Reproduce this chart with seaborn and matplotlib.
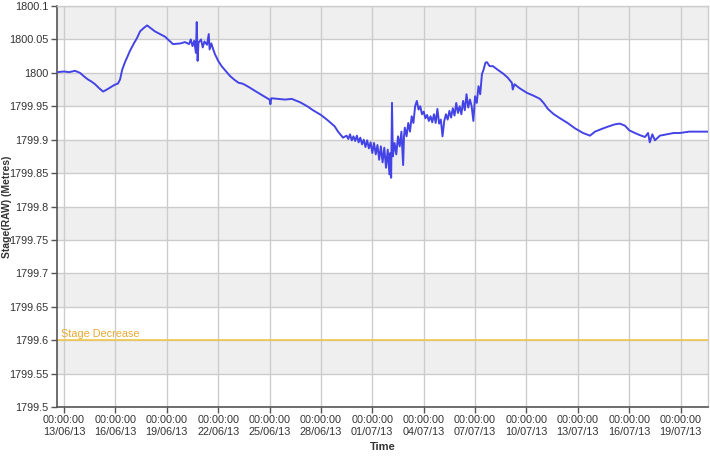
import numpy as np
import pandas as pd
import matplotlib
matplotlib.use("Agg")
import matplotlib.pyplot as plt
import seaborn as sns

# ---- data (days since 13/06/13 00:00, stage in metres) ----
days = [-0.41, 0.0, 0.3, 0.64, 0.93, 1.2, 1.40, 1.6, 1.81, 2.05, 2.28, 2.5, 2.69, 2.95,
        3.15, 3.27, 3.4, 3.56, 3.7, 3.85, 4.1, 4.26, 4.44, 4.65, 4.85, 5.1, 5.31, 5.6,
        5.90, 6.36, 6.8, 7.06, 7.3, 7.4, 7.5, 7.6, 7.7, 7.75, 7.8, 7.85, 8.0, 8.1, 8.2,
        8.35, 8.45, 8.5, 8.6, 8.7, 8.81, 9.0, 9.2, 9.40, 9.7, 9.98, 10.2, 10.4, 10.57,
        10.9, 11.15, 11.6, 12.0, 12.05, 12.1, 12.5, 12.9, 13.3, 13.78, 14.2, 14.54, 15.0,
        15.35, 15.8, 16.0, 16.29,
        16.5, 16.6, 16.7, 16.8, 16.9, 17.0, 17.1, 17.2, 17.3, 17.4, 17.5, 17.6, 17.7,
        17.8, 17.9, 18.0, 18.1, 18.2, 18.3, 18.4, 18.5, 18.6, 18.7, 18.8, 18.9, 19.0,
        19.05, 19.1, 19.15, 19.2, 19.3, 19.4, 19.5, 19.6, 19.7, 19.8, 19.85, 19.9, 20.0,
        20.1, 20.2, 20.3, 20.4, 20.5, 20.6, 20.7, 20.8, 20.9, 21.0, 21.1, 21.2, 21.3,
        21.4, 21.5, 21.6, 21.7, 21.8, 21.9, 22.0, 22.1, 22.2, 22.3, 22.4, 22.5, 22.6,
        22.7, 22.8, 22.9, 23.0, 23.1, 23.2, 23.3, 23.4, 23.5, 23.6, 23.7, 23.8, 23.9,
        24.0, 24.1, 24.2, 24.3, 24.4, 24.5, 24.6, 24.69,
        24.85, 25.04, 25.3, 25.63, 25.9, 26.15, 26.2, 26.3, 26.6, 27.03,
        27.4, 27.79, 28.0, 28.25, 28.6, 28.96, 29.4, 29.83, 30.3, 30.71, 31.0, 31.29,
        31.7, 32.17, 32.45, 32.75, 33.0, 33.33, 33.6, 33.92, 34.1, 34.2, 34.35, 34.5,
        34.79, 35.2, 35.6, 35.96, 36.5, 37.0, 37.60]
stage = [1800.001, 1800.002, 1800.001, 1800.003, 1800.000, 1799.994, 1799.990, 1799.987,
         1799.983, 1799.977, 1799.972, 1799.975, 1799.978, 1799.982, 1799.984, 1799.990,
         1800.005, 1800.016, 1800.024, 1800.033, 1800.045, 1800.052, 1800.062, 1800.067,
         1800.071, 1800.066, 1800.062, 1800.058, 1800.054, 1800.043, 1800.044, 1800.046,
         1800.043, 1800.050, 1800.040, 1800.048, 1800.030, 1800.076, 1800.018, 1800.045,
         1800.050, 1800.038, 1800.047, 1800.042, 1800.058, 1800.035, 1800.044, 1800.036,
         1800.028, 1800.018, 1800.010, 1800.004, 1799.995, 1799.989, 1799.985, 1799.984,
         1799.982, 1799.977, 1799.973, 1799.966, 1799.960, 1799.953, 1799.962, 1799.961,
         1799.960, 1799.961, 1799.956, 1799.950, 1799.944, 1799.937, 1799.930, 1799.920,
         1799.912, 1799.903,
         1799.906, 1799.901, 1799.908, 1799.899, 1799.905, 1799.898, 1799.906, 1799.896,
         1799.903, 1799.893, 1799.900, 1799.889, 1799.899, 1799.887, 1799.896, 1799.880,
         1799.895, 1799.878, 1799.892, 1799.870, 1799.890, 1799.866, 1799.888, 1799.858,
         1799.885, 1799.848, 1799.880, 1799.843, 1799.955, 1799.875, 1799.895, 1799.878,
         1799.905, 1799.890, 1799.912, 1799.862, 1799.905, 1799.918, 1799.905, 1799.925,
         1799.912, 1799.935, 1799.925, 1799.950, 1799.958, 1799.945, 1799.950, 1799.938,
         1799.942, 1799.932, 1799.937, 1799.928, 1799.935, 1799.926, 1799.938, 1799.925,
         1799.946, 1799.924, 1799.930, 1799.905, 1799.928, 1799.938, 1799.930, 1799.943,
         1799.933, 1799.947, 1799.936, 1799.955, 1799.940, 1799.950, 1799.938, 1799.958,
         1799.944, 1799.968, 1799.948, 1799.960, 1799.950, 1799.928, 1799.965, 1799.955,
         1799.980, 1799.968, 1799.998, 1800.005, 1800.015, 1800.016,
         1800.010, 1800.010, 1800.005, 1799.999, 1799.993, 1799.985, 1799.975, 1799.983,
         1799.977, 1799.970, 1799.966, 1799.961, 1799.955, 1799.946, 1799.938, 1799.932,
         1799.925, 1799.917, 1799.910, 1799.906, 1799.912, 1799.915, 1799.919, 1799.923,
         1799.924, 1799.921, 1799.914, 1799.910, 1799.907, 1799.904, 1799.910, 1799.896,
         1799.908, 1799.899, 1799.906, 1799.908, 1799.910, 1799.910, 1799.912, 1799.912,
         1799.912]

threshold_value = 1799.6
threshold_label = "Stage Decrease"
tick_dates = ["2013-06-13", "2013-06-16", "2013-06-19", "2013-06-22", "2013-06-25",
              "2013-06-28", "2013-07-01", "2013-07-04", "2013-07-07", "2013-07-10",
              "2013-07-13", "2013-07-16", "2013-07-19"]
y_ticks = [1799.5, 1799.55, 1799.6, 1799.65, 1799.7, 1799.75, 1799.8, 1799.85,
           1799.9, 1799.95, 1800.0, 1800.05, 1800.1]
y_tick_labels = ["1799.5", "1799.55", "1799.6", "1799.65", "1799.7", "1799.75", "1799.8",
                 "1799.85", "1799.9", "1799.95", "1800", "1800.05", "1800.1"]

base = pd.Timestamp("2013-06-13 00:00")
df = pd.DataFrame({"Time": base + pd.to_timedelta(days, unit="D"), "Stage": stage})

sns.set_theme(style="white")
plt.rcParams["font.family"] = ["Liberation Sans", "DejaVu Sans"]

fig = plt.figure(figsize=(7.1, 4.73), dpi=100)
ax = fig.add_axes([57 / 710, 1 - 407 / 473, (708 - 57) / 710, (407 - 6) / 473])

# alternating bands
for i in range(len(y_ticks) - 1):
    if i % 2 == 1:
        ax.axhspan(y_ticks[i], y_ticks[i + 1], color="#efefef", zorder=0, lw=0)

sns.lineplot(data=df, x="Time", y="Stage", ax=ax, color="#4444e6", lw=1.4, zorder=3)

ax.axhline(threshold_value, color="#f2c84a", lw=1.2, zorder=2)
ax.text(df["Time"].iloc[0] + pd.Timedelta(hours=5), threshold_value + 0.002, threshold_label,
        color="#e8a92e", fontsize=7.8, va="bottom", ha="left", zorder=4)

ax.set_xlim(df["Time"].iloc[0], df["Time"].iloc[-1])
ax.set_ylim(1799.5, 1800.1)
ax.set_yticks(y_ticks)
ax.set_yticklabels(y_tick_labels)
tds = pd.to_datetime(tick_dates)
ax.set_xticks(tds)
ax.set_xticklabels([d.strftime("%H:%M:%S\n%d/%m/%y") for d in tds])

ax.grid(True, color="#cccccc", lw=1, zorder=1)
ax.set_axisbelow(True)
ax.tick_params(axis="both", labelsize=7.8, colors="#555555", labelcolor="#333333",
               length=4, width=1, direction="out", bottom=True, left=True, pad=2)
for side in ["left", "bottom"]:
    ax.spines[side].set_color("#555555")
    ax.spines[side].set_linewidth(1.2)
for side in ["top", "right"]:
    ax.spines[side].set_color("#cccccc")
    ax.spines[side].set_linewidth(1)

ax.set_xlabel("Time", fontsize=8, fontweight="bold", color="#333333", labelpad=4)
ax.set_ylabel("Stage(RAW) (Metres)", fontsize=7.5, fontweight="bold", color="#333333")
ax.yaxis.set_label_coords(-0.069, 0.5)

fig.savefig("out.png", dpi=100)
